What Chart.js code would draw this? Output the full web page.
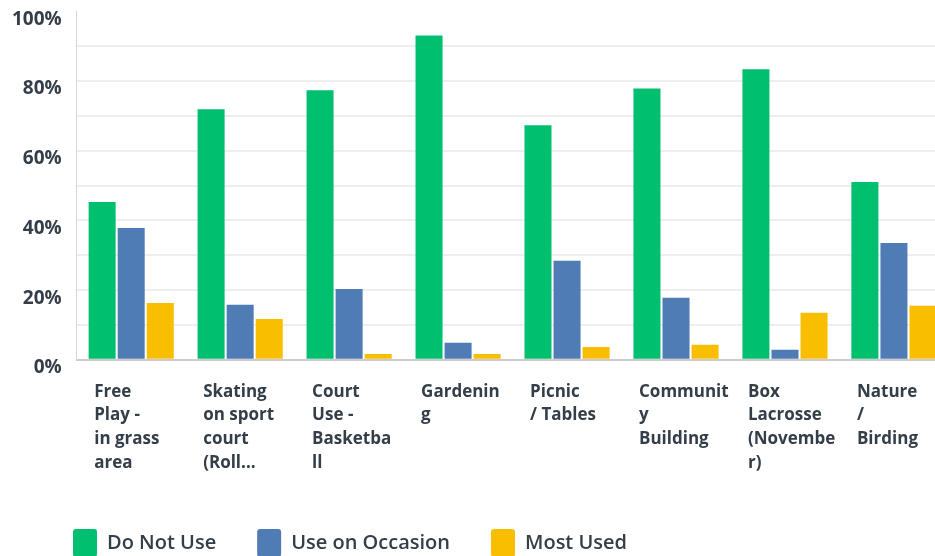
<!DOCTYPE html>
<html>
<head>
<meta charset="utf-8">
<script src="https://cdn.jsdelivr.net/npm/chart.js@4"></script>
<style>
  html, body { margin: 0; padding: 0; background: #ffffff; overflow: hidden; }
  #wrap { width: 975px; height: 577px; margin-top: -15px; position: relative; }
</style>
</head>
<body>
<div id="wrap"><canvas id="chartContainer"></canvas></div>
<script>
// Categories (already wrapped the way the picture shows them)
const categories = [
    ['Free', 'Play -', 'in grass', 'area'],
    ['Skating', 'on sport', 'court', '(Roll...'],
    ['Court', 'Use -', 'Basketba', 'll'],
    ['Gardenin', 'g'],
    ['Picnic', '/ Tables'],
    ['Communit', 'y', 'Building'],
    ['Box', 'Lacrosse', '(Novembe', 'r)'],
    ['Nature', '/', 'Birding']
];

// Series values in percent
const doNotUse = [45.3, 71.9, 77.4, 93.1, 67.3, 77.9, 83.4, 51.0];
const useOnOccasion = [37.8, 15.8, 20.3, 4.9, 28.4, 17.8, 2.9, 33.5];
const mostUsed = [16.3, 11.7, 1.7, 1.7, 3.7, 4.3, 13.5, 15.5];

// Tick labels shown on the y axis
const yTickLabels = ['0%', '20%', '40%', '60%', '80%', '100%'];

const textColor = '#333e48';
const canvasShift = 15; // canvas is moved up by this much in the page

// Move the legend to where the picture has it
const legendShift = {
    id: 'legendShift',
    afterLayout(chart) {
        const lg = chart.legend;
        const pad = lg.options.labels.padding;
        const w = lg.right - lg.left;
        lg.left = 73 - pad;
        lg.right = lg.left + w;
        lg.top = 529 + canvasShift - pad;
    }
};

const ctx = document.getElementById('chartContainer').getContext('2d');
new Chart(ctx, {
    type: 'bar',
    data: {
        labels: categories,
        datasets: [{
            label: 'Do Not Use',
            data: doNotUse,
            backgroundColor: '#00bf6f'
        }, {
            label: 'Use on Occasion',
            data: useOnOccasion,
            backgroundColor: '#507cb6'
        }, {
            label: 'Most Used',
            data: mostUsed,
            backgroundColor: '#f9be00'
        }]
    },
    options: {
        responsive: true,
        maintainAspectRatio: false,
        animation: false,
        layout: {
            padding: { top: 0, left: -3, right: 0, bottom: -12 }
        },
        datasets: {
            bar: {
                categoryPercentage: 0.8,
                barPercentage: 0.93
            }
        },
        plugins: {
            tooltip: { enabled: false },
            legend: {
                position: 'bottom',
                align: 'start',
                labels: {
                    boxWidth: 24,
                    boxHeight: 28,
                    useBorderRadius: true,
                    borderRadius: 3,
                    padding: 41,
                    color: textColor,
                    font: { family: 'Open Sans', size: 20, weight: '600' }
                }
            }
        },
        scales: {
            x: {
                grid: { display: false, drawTicks: false },
                border: { display: true, color: '#cccccc', width: 2 },
                ticks: {
                    color: textColor,
                    font: { family: 'Open Sans', size: 17, weight: 'bold', lineHeight: 1.4 },
                    align: 'start',
                    labelOffset: -37,
                    padding: 20,
                    maxRotation: 0,
                    autoSkip: false
                }
            },
            y: {
                min: 0,
                max: 100,
                grid: {
                    drawTicks: false,
                    lineWidth: 2,
                    color: c => (c.tick && (c.tick.value === 100 || c.tick.value === 0)) ? 'rgba(0,0,0,0)' : '#eeeeee'
                },
                border: { display: true, color: '#d6d6d6', width: 1 },
                ticks: {
                    stepSize: 10,
                    color: textColor,
                    font: { family: 'Open Sans', size: 19, weight: 'bold' },
                    padding: 15,
                    labelOffset: 8,
                    callback: v => (v % 20 === 0 ? yTickLabels[v / 20] : '')
                }
            }
        }
    },
    plugins: [legendShift]
});
</script>
</body>
</html>
